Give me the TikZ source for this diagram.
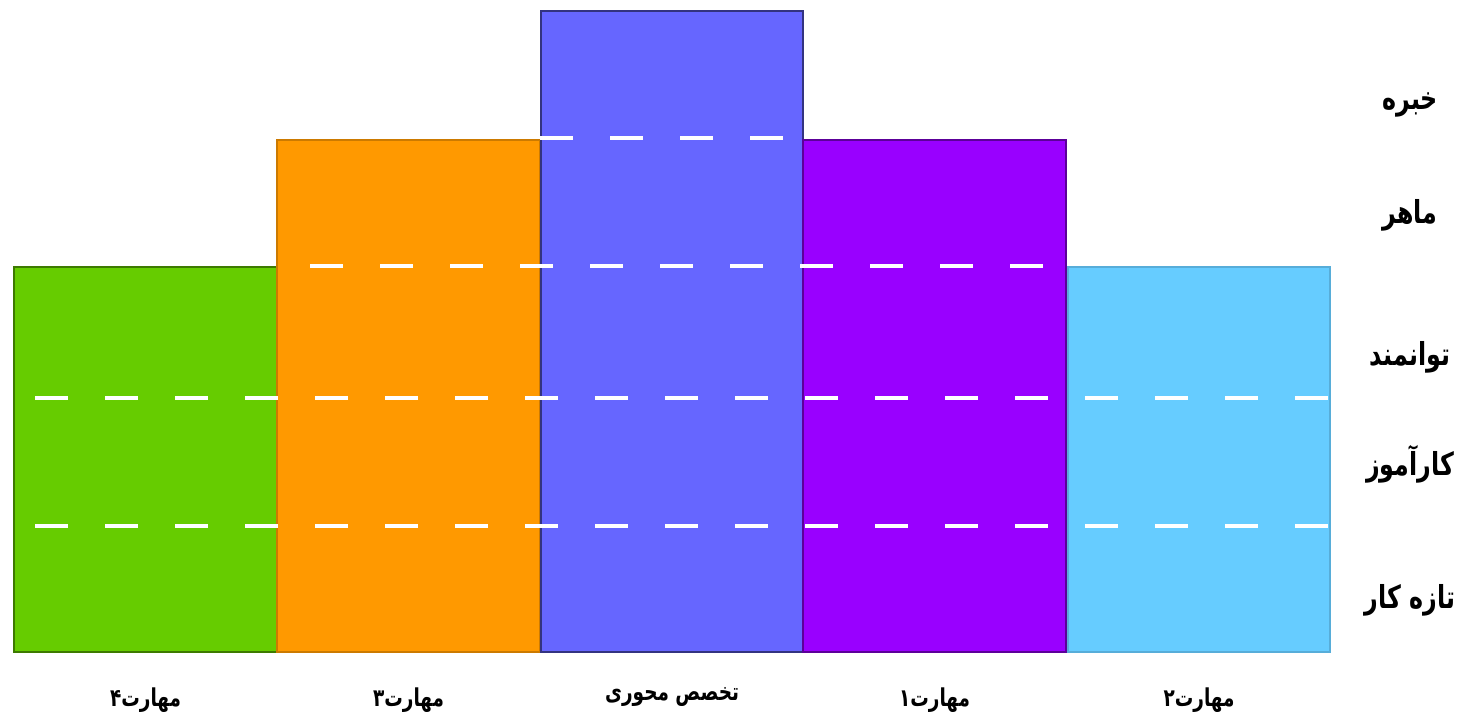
\documentclass[tikz,border=0pt]{standalone}
\usepackage{fontspec}
\usepackage{tikz}
\TeXXeTstate=1
\newfontfamily\farsi[Script=Arabic,FakeStretch=0.75]{DejaVu Sans}
\usetikzlibrary{positioning}
\definecolor{skillgreen}{HTML}{66CC00}
\definecolor{skillorange}{HTML}{FF9900}
\definecolor{coreblue}{HTML}{6666FF}
\definecolor{skillpurple}{HTML}{9900FF}
\definecolor{skillsky}{HTML}{66CCFF}

\begin{document}
\begin{tikzpicture}[
    every node/.style={font=\farsi\bfseries},
    bar/.style={
        rectangle,
        inner sep=0pt,
        anchor=south west,
        minimum width=2.63cm,
        line width=0.6pt
    },
    level/.style={font=\farsi\bfseries\small},
    skill/.style={font=\farsi\bfseries\scriptsize},
    grid/.style={white, line width=1.1pt, dash pattern=on 0.33cm off 0.37cm}
]

\useasboundingbox (0,0) rectangle (14.62,7.23);

\node[bar, fill=skillgreen, draw=skillgreen!60!black, minimum height=3.85cm] (s4) at (0.13,0.70) {};
\node[bar, fill=skillorange, draw=skillorange!80!black, minimum height=5.12cm] (s3) at (2.76,0.70) {};
\node[bar, fill=coreblue, draw=coreblue!50!black, minimum width=2.62cm, minimum height=6.41cm] (core) at (5.40,0.70) {};
\node[bar, fill=skillpurple, draw=skillpurple!60!black, minimum height=5.12cm] (s1) at (8.02,0.70) {};
\node[bar, fill=skillsky, draw=skillsky!85!black, minimum width=2.62cm, minimum height=3.85cm] (s2) at (10.67,0.70) {};

\draw[grid] (5.40,5.85) -- (8.02,5.85);
\draw[grid] (3.10,4.57) -- (10.45,4.57);
\foreach \y in {3.25,1.97}
    \draw[grid] (0.35,\y) -- (13.29,\y);

\node[skill, below=0.22cm of s4] (l4) {\beginR مهارت۴\endR};
\node[skill, below=0.22cm of s3] (l3) {\beginR مهارت۳\endR};
\node[skill, below=0.22cm of core] (lcore) {\beginR تخصص محوری\endR};
\node[skill, below=0.22cm of s1] (l1) {\beginR مهارت۱\endR};
\node[skill, below=0.22cm of s2] (l2) {\beginR مهارت۲\endR};

\node[level] (expert) at (14.10,6.18) {\beginR خبره\endR};
\node[level] (skilled) at (14.10,5.08) {\beginR ماهر\endR};
\node[level] (capable) at (14.10,3.66) {\beginR توانمند\endR};
\node[level] (trainee) at (14.10,2.59) {\beginR کارآموز\endR};
\node[level] (novice) at (14.10,1.23) {\beginR تازه کار\endR};

\end{tikzpicture}
\end{document}
